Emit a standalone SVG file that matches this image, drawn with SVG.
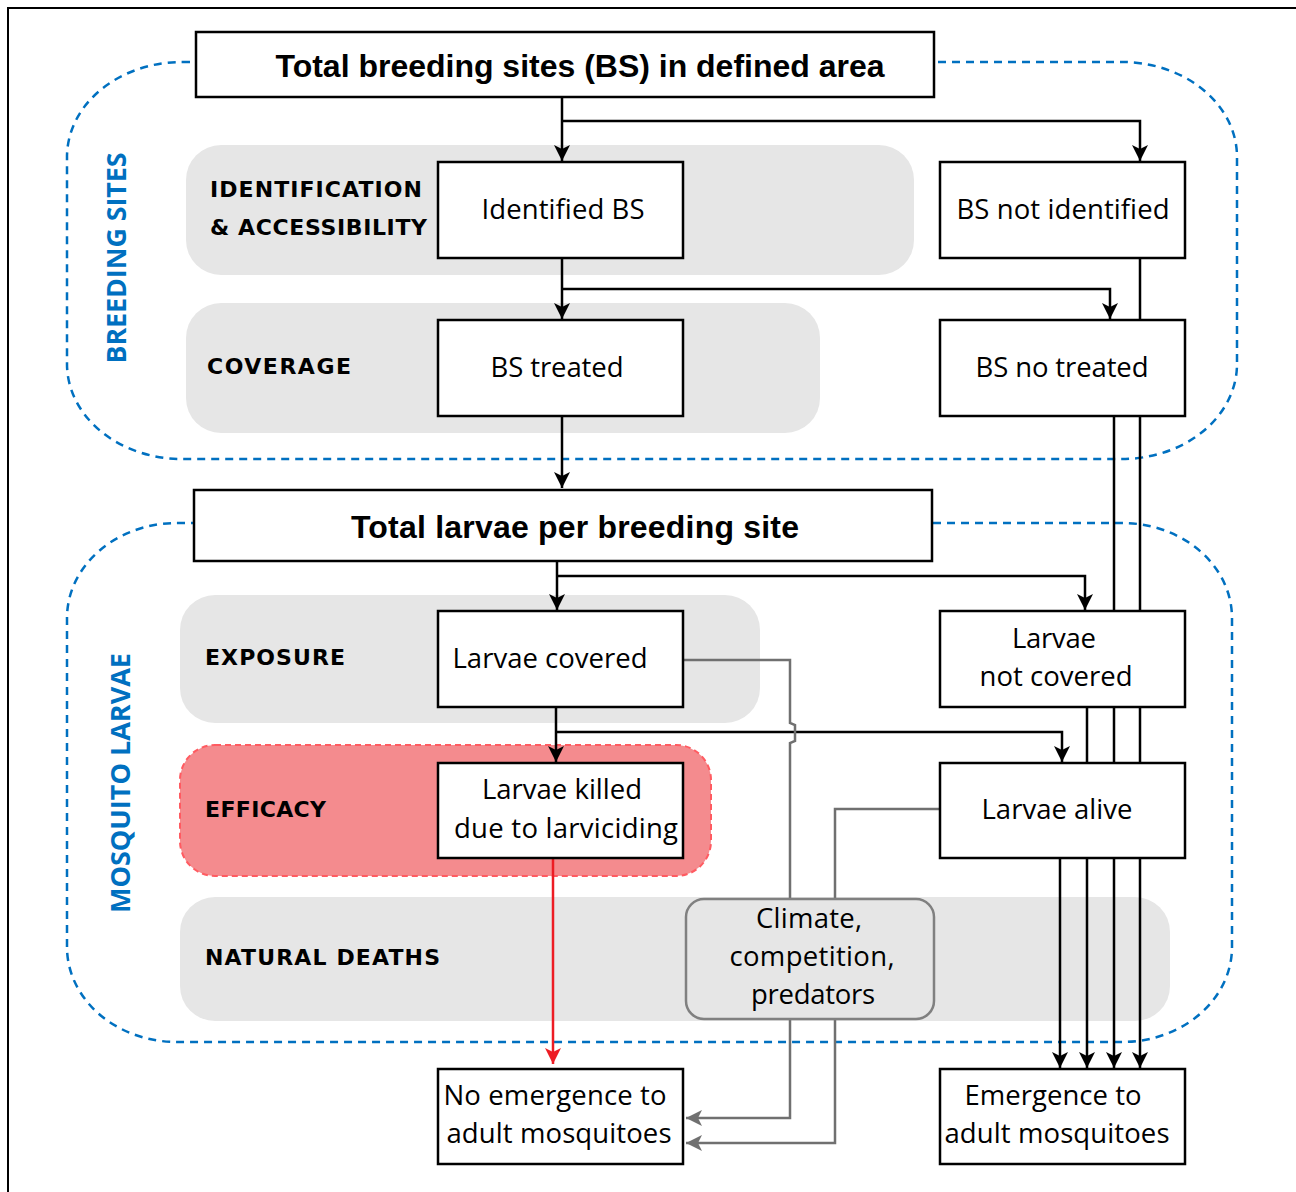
<svg xmlns="http://www.w3.org/2000/svg" width="1296" height="1192" viewBox="0 0 1296 1192">
<defs>
<marker id="ab" markerUnits="userSpaceOnUse" markerWidth="16" markerHeight="16" viewBox="0 0 16 16" refX="16" refY="8" orient="auto"><path d="M0,0 L16,8 L0,16 L4,8 z" fill="#000"/></marker>
<marker id="ag" markerUnits="userSpaceOnUse" markerWidth="16" markerHeight="16" viewBox="0 0 16 16" refX="16" refY="8" orient="auto"><path d="M0,0 L16,8 L0,16 L4,8 z" fill="#707070"/></marker>
<marker id="ar" markerUnits="userSpaceOnUse" markerWidth="16" markerHeight="16" viewBox="0 0 16 16" refX="16" refY="8" orient="auto"><path d="M0,0 L16,8 L0,16 L4,8 z" fill="#ed1c24"/></marker>
<style>
.bg{fill:#e6e6e6}
.region{fill:none;stroke:#0070c0;stroke-width:2.5;stroke-dasharray:8 6}
.box{fill:#fff;stroke:#000;stroke-width:2.5}
.t{font-family:"Open Sans","Liberation Sans",sans-serif;font-size:27.5px;fill:#000;text-anchor:middle}
.title{font-family:"Liberation Sans",Arial,sans-serif;font-weight:bold;font-size:32px;fill:#000;text-anchor:middle}
.lab{font-family:"DejaVu Sans",sans-serif;font-weight:bold;font-size:22px;fill:#000}
.vlab{font-family:"Open Sans","Liberation Sans",sans-serif;font-weight:bold;font-size:27px;fill:#0070c0;text-anchor:middle}
.c{fill:none;stroke:#000;stroke-width:2.5}
.cg{fill:none;stroke:#707070;stroke-width:2.5}
.cr{fill:none;stroke:#ed1c24;stroke-width:2.5}
</style>
</defs>
<rect width="1296" height="1192" fill="#fff"/>
<path d="M8,1192 V8 H1296" fill="none" stroke="#000" stroke-width="2"/>

<g id="regions">
<rect class="region" x="67" y="62" width="1170" height="397" rx="115" ry="95"/>
<rect class="region" x="67" y="523" width="1165" height="519" rx="110" ry="95"/>
<text class="vlab" transform="translate(126,258) rotate(-90)" textLength="211" lengthAdjust="spacingAndGlyphs">BREEDING SITES</text>
<text class="vlab" transform="translate(130,783) rotate(-90)" textLength="260" lengthAdjust="spacingAndGlyphs">MOSQUITO LARVAE</text>
</g>

<g id="bands">
<g id="band-identification">
<rect class="bg" x="186" y="145" width="728" height="130" rx="35"/>
<text class="lab" x="210" y="197" textLength="212">IDENTIFICATION</text>
<text class="lab" x="210" y="235" textLength="217">&amp; ACCESSIBILITY</text>
</g>
<g id="band-coverage">
<rect class="bg" x="186" y="303" width="634" height="130" rx="35"/>
<text class="lab" x="207" y="374" textLength="144">COVERAGE</text>
</g>
<g id="band-exposure">
<rect class="bg" x="180" y="595" width="580" height="128" rx="35"/>
<text class="lab" x="205" y="665" textLength="140">EXPOSURE</text>
</g>
<g id="band-efficacy">
<rect x="180" y="745" width="531" height="131" rx="35" fill="#f48b8e" stroke="#ff5b61" stroke-width="2" stroke-dasharray="6 4"/>
<text class="lab" x="205" y="817" textLength="121">EFFICACY</text>
</g>
<g id="band-natural">
<rect class="bg" x="180" y="897" width="990" height="124" rx="35"/>
<text class="lab" x="205" y="965" textLength="235">NATURAL DEATHS</text>
</g>
</g>

<g id="connectors">
<path class="c" d="M562,97 V161" marker-end="url(#ab)"/>
<path class="c" d="M562,121 H1140 V161" marker-end="url(#ab)"/>
<path class="c" d="M562,258 V319" marker-end="url(#ab)"/>
<path class="c" d="M562,289 H1110 V319" marker-end="url(#ab)"/>
<path class="c" d="M562,416 V488" marker-end="url(#ab)"/>
<path class="c" d="M557,561 V610" marker-end="url(#ab)"/>
<path class="c" d="M557,576 H1085 V610" marker-end="url(#ab)"/>
<path class="c" d="M556,707 V762" marker-end="url(#ab)"/>
<path class="c" d="M556,732 H1062 V762" marker-end="url(#ab)"/>
<path class="c" d="M1140,258 V1068" marker-end="url(#ab)"/>
<path class="c" d="M1114,416 V1068" marker-end="url(#ab)"/>
<path class="c" d="M1087,707 V1068" marker-end="url(#ab)"/>
<path class="c" d="M1060,858 V1068" marker-end="url(#ab)"/>
<path class="cr" d="M553,858 V1064" marker-end="url(#ar)"/>
<path class="cg" d="M683,660 H790 V723 L795,725 V741 L790,743 V1118 H686" marker-end="url(#ag)"/>
<path class="cg" d="M940,809 H835 V1143 H686" marker-end="url(#ag)"/>
</g>

<g id="n-total-bs">
<rect class="box" x="196" y="32" width="738" height="65"/>
<text class="title" x="580" y="77" textLength="609">Total breeding sites (BS) in defined area</text>
</g>
<g id="n-identified">
<rect class="box" x="438" y="162" width="245" height="96"/>
<text class="t" x="563" y="219" textLength="163">Identified BS</text>
</g>
<g id="n-not-identified">
<rect class="box" x="940" y="162" width="245" height="96"/>
<text class="t" x="1063" y="219" textLength="213">BS not identified</text>
</g>
<g id="n-treated">
<rect class="box" x="438" y="320" width="245" height="96"/>
<text class="t" x="557" y="377" textLength="133">BS treated</text>
</g>
<g id="n-no-treated">
<rect class="box" x="940" y="320" width="245" height="96"/>
<text class="t" x="1062" y="377" textLength="173">BS no treated</text>
</g>
<g id="n-total-larvae">
<rect class="box" x="194" y="490" width="738" height="71"/>
<text class="title" x="575" y="538" textLength="448">Total larvae per breeding site</text>
</g>
<g id="n-covered">
<rect class="box" x="438" y="611" width="245" height="96"/>
<text class="t" x="550" y="668" textLength="195">Larvae covered</text>
</g>
<g id="n-not-covered">
<rect class="box" x="940" y="611" width="245" height="96"/>
<text class="t" x="1054" y="648" textLength="84">Larvae</text>
<text class="t" x="1056" y="686" textLength="153">not covered</text>
</g>
<g id="n-killed">
<rect class="box" x="438" y="763" width="245" height="95"/>
<text class="t" x="562" y="799" textLength="160">Larvae killed</text>
<text class="t" x="566" y="838" textLength="224">due to larviciding</text>
</g>
<g id="n-alive">
<rect class="box" x="940" y="763" width="245" height="95"/>
<text class="t" x="1057" y="819" textLength="151">Larvae alive</text>
</g>
<g id="n-climate">
<rect x="686" y="899" width="248" height="120" rx="18" fill="#e6e6e6" stroke="#808080" stroke-width="2.5"/>
<text class="t" x="809" y="928" textLength="106">Climate,</text>
<text class="t" x="812" y="966" textLength="165">competition,</text>
<text class="t" x="813" y="1004" textLength="124">predators</text>
</g>
<g id="n-no-emergence">
<rect class="box" x="438" y="1069" width="245" height="95"/>
<text class="t" x="555" y="1105" textLength="223">No emergence to</text>
<text class="t" x="559" y="1143" textLength="225">adult mosquitoes</text>
</g>
<g id="n-emergence">
<rect class="box" x="940" y="1069" width="245" height="95"/>
<text class="t" x="1053" y="1105" textLength="177">Emergence to</text>
<text class="t" x="1057" y="1143" textLength="225">adult mosquitoes</text>
</g>
</svg>
